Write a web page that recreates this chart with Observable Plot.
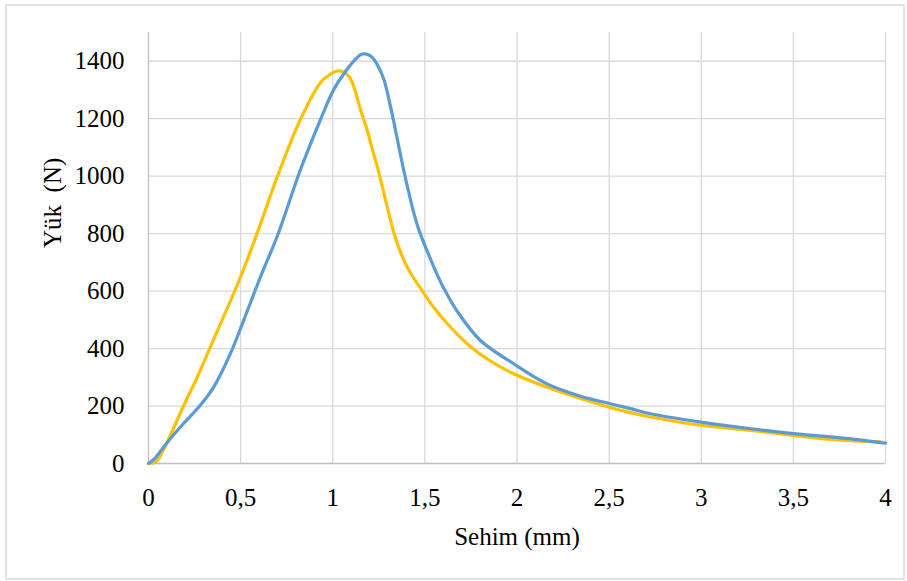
<!DOCTYPE html>
<html>
<head>
<meta charset="utf-8">
<script src="https://cdn.jsdelivr.net/npm/d3@7"></script>
<script src="https://cdn.jsdelivr.net/npm/@observablehq/plot@0.6"></script>
<style>
  html, body { margin: 0; padding: 0; background: #fff; }
  #chart { width: 907px; height: 581px; }
</style>
</head>
<body>
<div id="chart"></div>
<script>
// Sehim (mm) vs Yük (N)
const xTicks = [0, 0.5, 1, 1.5, 2, 2.5, 3, 3.5, 4];
const yTicks = [0, 200, 400, 600, 800, 1000, 1200, 1400];

const yellowX = [0, 0.038, 0.08, 0.12, 0.19, 0.264, 0.336, 0.5, 0.59, 0.70, 0.825, 0.934, 0.98, 1.024, 1.06, 1.09, 1.115, 1.15, 1.187, 1.214, 1.241, 1.277, 1.313, 1.34, 1.368, 1.395, 1.422, 1.494, 1.54, 1.62, 1.748, 1.86, 1.98, 2.16, 2.345, 2.50, 2.616, 2.725, 3.0, 3.27, 3.5, 3.72, 3.97];
const yellowY = [0, 5, 45, 100, 200, 300, 406, 650, 802, 1000, 1198, 1326, 1352, 1366, 1362, 1345, 1310, 1233, 1160, 1095, 1035, 942, 848, 785, 735, 695, 663, 593, 550, 488, 406, 355, 313, 266, 226, 196, 177, 162, 133, 115, 98, 83, 75];

const blueX = [0, 0.03, 0.10, 0.19, 0.28, 0.354, 0.445, 0.517, 0.608, 0.698, 0.825, 0.934, 1.006, 1.078, 1.12, 1.16, 1.205, 1.24, 1.277, 1.313, 1.35, 1.386, 1.422, 1.44, 1.467, 1.512, 1.585, 1.63, 1.675, 1.80, 1.98, 2.16, 2.345, 2.50, 2.616, 2.725, 3.0, 3.27, 3.5, 3.72, 4.0];
const blueY = [0, 15, 72, 139, 202, 266, 383, 499, 650, 790, 1023, 1198, 1302, 1372, 1405, 1425, 1419, 1390, 1337, 1244, 1130, 1018, 918, 872, 814, 740, 632, 578, 530, 429, 348, 278, 234, 209, 191, 173, 144, 121, 104, 92, 71];

const xTitle = "Sehim (mm)";
const yTitle = "Yük\u00a0 (N)";

const yellow = yellowX.map((x, i) => ({x, y: yellowY[i]}));
const blue = blueX.map((x, i) => ({x, y: blueY[i]}));
const fmtX = d => String(d).replace(".", ",");
const fmtY = d => String(d);

const plot = Plot.plot({
  width: 907,
  height: 581,
  marginLeft: 148,
  marginRight: 22,
  marginTop: 32,
  marginBottom: 118,
  style: {fontFamily: "'Liberation Serif', 'DejaVu Serif', serif", fontSize: "25px", color: "#000", background: "transparent", overflow: "visible"},
  x: {domain: [0, 4]},
  y: {domain: [0, 1500]},
  marks: [
    Plot.gridY(yTicks.filter(d => d > 0), {stroke: "#d9d9d9", strokeOpacity: 1, strokeWidth: 1.3}),
    Plot.gridX(xTicks.filter(d => d > 0), {stroke: "#d9d9d9", strokeOpacity: 1, strokeWidth: 1.3}),
    Plot.ruleY([0], {stroke: "#bfbfbf", strokeWidth: 1.3}),
    Plot.ruleX([0], {stroke: "#bfbfbf", strokeWidth: 1.3}),
    Plot.axisX({ticks: xTicks, tickFormat: fmtX, tickSize: 0, tickPadding: 25, label: null, fontSize: 25}),
    Plot.axisY({ticks: yTicks, tickFormat: fmtY, tickSize: 0, tickPadding: 24, label: null, fontSize: 25}),
    Plot.line(yellow, {x: "x", y: "y", stroke: "#FFC000", strokeWidth: 3.2, curve: "catmull-rom"}),
    Plot.line(blue, {x: "x", y: "y", stroke: "#5B9BD5", strokeWidth: 3.2, curve: "catmull-rom"}),
    Plot.text([xTitle], {text: d => d, frameAnchor: "bottom", dy: 73, fontSize: 25, lineAnchor: "middle"}),
    Plot.text([yTitle], {text: d => d, frameAnchor: "left", dx: -96, rotate: -90, fontSize: 25, lineAnchor: "middle"})
  ]
});

const svg = d3.select(plot);
svg.insert("rect", ":first-child")
  .attr("x", 6).attr("y", 5).attr("width", 898).attr("height", 574)
  .attr("fill", "#fff").attr("stroke", "#d9d9d9").attr("stroke-width", 1.5);

document.getElementById("chart").appendChild(plot);
</script>
</body>
</html>
